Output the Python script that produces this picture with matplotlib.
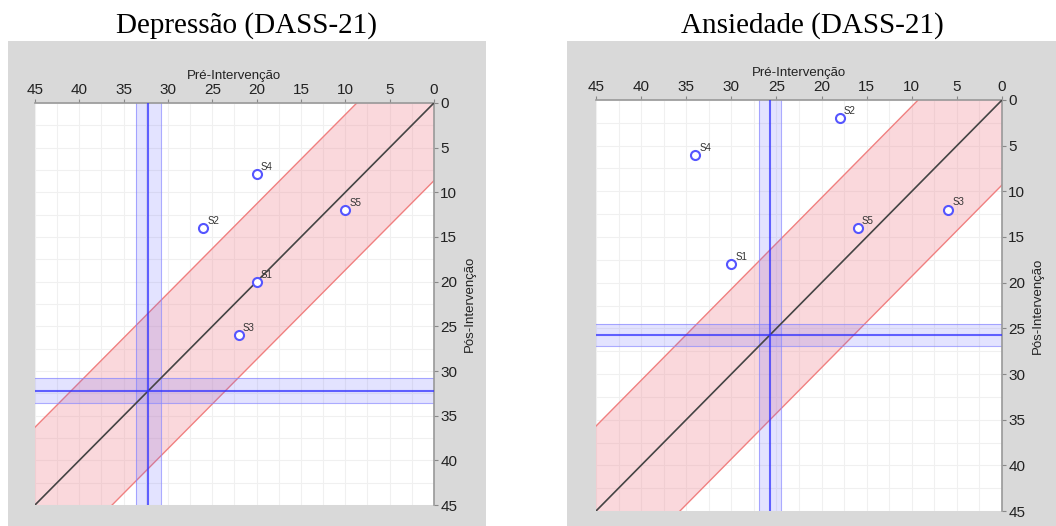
import numpy as np
import matplotlib.pyplot as plt
from matplotlib.patches import Rectangle

# data
titles = ['Depressão (DASS-21)', 'Ansiedade (DASS-21)']
subjects = ['S1', 'S2', 'S3', 'S4', 'S5']
dep_pre = [20, 26, 22, 20, 10]
dep_post = [20, 14, 26, 8, 12]
anx_pre = [30, 18, 6, 34, 16]
anx_post = [18, 2, 12, 6, 14]
rci_band = [8.7, 9.3]          # half-width of the pink band
cutoff = [32.2, 25.7]          # blue cut-off lines
cutoff_err = [1.4, 1.2]        # half-width of the blue bands

panels = [(dep_pre, dep_post), (anx_pre, anx_post)]

fig = plt.figure(figsize=(10.56, 5.26), dpi=100)

bg_pos = [[0.0076, 0.0, 0.4527, 0.922], [0.5369, 0.0, 0.4631, 0.922]]
ax_pos = [[0.0331, 0.0399, 0.3778, 0.7643], [0.5644, 0.0285, 0.3845, 0.7814]]
title_x = [247 / 1056, 812 / 1056]

for i in range(2):
    fig.patches.append(Rectangle((bg_pos[i][0], bg_pos[i][1]), bg_pos[i][2], bg_pos[i][3],
                                 transform=fig.transFigure, facecolor='#d9d9d9',
                                 edgecolor='none', zorder=0))
    fig.text(title_x[i], 0.952, titles[i], ha='center', va='center',
             family='Liberation Serif', fontsize=21)

    ax = fig.add_axes(ax_pos[i])
    ax.set_zorder(2)
    pre, post = panels[i]

    ax.set_xlim(45, 0)
    ax.set_ylim(45, 0)

    # grid every 2.5
    ax.set_xticks(np.arange(0, 45.1, 2.5), minor=True)
    ax.set_yticks(np.arange(0, 45.1, 2.5), minor=True)
    ax.grid(True, which='both', color='#f0f0f0', linewidth=0.8, zorder=0)
    ax.set_axisbelow(True)

    # RCI band and identity line
    xx = np.array([0, 45])
    b = rci_band[i]
    ax.fill_between(xx, xx - b, xx + b, color='#f08a96', alpha=0.33, linewidth=0, zorder=1)
    ax.plot(xx, xx - b, color='#f08080', linewidth=1, zorder=2)
    ax.plot(xx, xx + b, color='#f08080', linewidth=1, zorder=2)
    ax.plot(xx, xx, color='#444444', linewidth=1.2, zorder=3)

    # cut-off lines with bands
    c = cutoff[i]
    e = cutoff_err[i]
    ax.axvspan(c - e, c + e, color='#6666ff', alpha=0.18, linewidth=0, zorder=2)
    ax.axhspan(c - e, c + e, color='#6666ff', alpha=0.18, linewidth=0, zorder=2)
    for v in (c - e, c + e):
        ax.axvline(v, color='#8888ff', linewidth=0.8, alpha=0.7, zorder=2)
        ax.axhline(v, color='#8888ff', linewidth=0.8, alpha=0.7, zorder=2)
    ax.axvline(c, color='#3333ff', linewidth=1.5, alpha=0.75, zorder=3)
    ax.axhline(c, color='#3333ff', linewidth=1.5, alpha=0.75, zorder=3)

    # subjects
    ax.plot(pre, post, 'o', markersize=6.5, markerfacecolor='white',
            markeredgecolor='#5555ff', markeredgewidth=1.5, zorder=5)
    for s, x, y in zip(subjects, pre, post):
        ax.annotate(s, (x, y), xytext=(3, 3), textcoords='offset points',
                    fontsize=7, color='#333333', family='Liberation Sans', zorder=6)

    ax.set_xticks(np.arange(0, 46, 5))
    ax.set_yticks(np.arange(0, 46, 5))
    ax.xaxis.tick_top()
    ax.xaxis.set_label_position('top')
    ax.yaxis.tick_right()
    ax.yaxis.set_label_position('right')
    ax.tick_params(which='major', length=3, width=0.8, color='#888888', pad=1.5,
                   labelsize=11, labelcolor='#222222')
    ax.tick_params(which='minor', length=0)
    for lab in ax.get_xticklabels() + ax.get_yticklabels():
        lab.set_family('Liberation Sans')
    ax.set_xlabel('Pré-Intervenção', family='Liberation Sans', fontsize=9.5,
                  labelpad=3, color='#222222')
    ax.set_ylabel('Pós-Intervenção', family='Liberation Sans', fontsize=9.5,
                  labelpad=5, color='#222222')

    for side in ('left', 'bottom'):
        ax.spines[side].set_visible(False)
    for side in ('top', 'right'):
        ax.spines[side].set_color('#999999')
        ax.spines[side].set_linewidth(1.2)

fig.savefig('out.png', dpi=100)
